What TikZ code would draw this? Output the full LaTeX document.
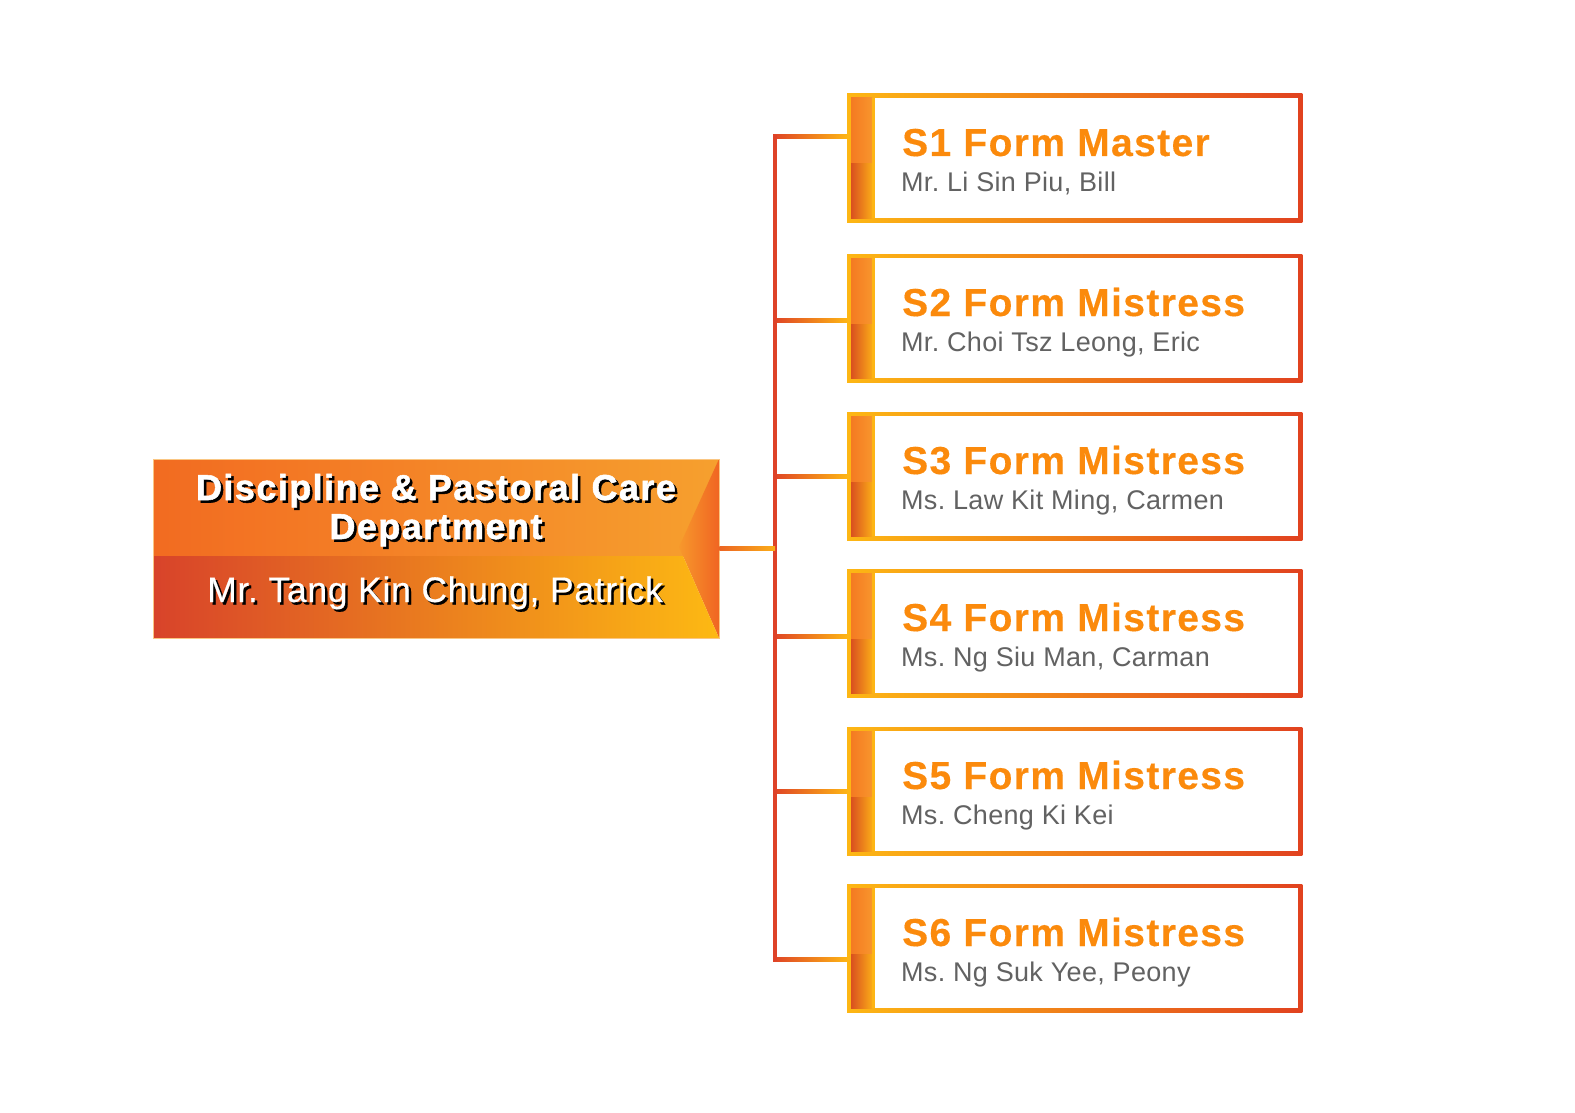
\documentclass[tikz,border=0pt]{standalone}
\usepackage{fontspec}
\setmainfont{Liberation Sans}
\newfontfamily\deptfont{Liberation Sans}[LetterSpace=4,FakeBold=1.5]
\newfontfamily\namefont{Liberation Sans}[LetterSpace=2,FakeBold=0.4]
\newfontfamily\ttlfont{Liberation Sans}[LetterSpace=3.5,FakeBold=0.3]
\newfontfamily\subfont{Liberation Sans}[LetterSpace=1.2]
\definecolor{ttlorange}{HTML}{FB8A0C}
\definecolor{subgray}{HTML}{626262}
\definecolor{bordL}{HTML}{FDB714}
\definecolor{bordM}{HTML}{F28F1B}
\definecolor{bordR}{HTML}{E1421F}
\definecolor{stTopL}{HTML}{F47A22}
\definecolor{stTopR}{HTML}{F8952C}
\definecolor{stBotL}{HTML}{D9501F}
\definecolor{stBotR}{HTML}{FAAA18}
\definecolor{brL}{HTML}{DF4326}
\definecolor{brR}{HTML}{FDB515}
\definecolor{spinecol}{HTML}{DE4228}
\definecolor{dTopL}{HTML}{F26B21}
\definecolor{dTopR}{HTML}{F6A02E}
\definecolor{dBotL}{HTML}{D8432A}
\definecolor{dBotR}{HTML}{FDB913}
\definecolor{dTriL}{HTML}{F7982C}
\definecolor{dTriR}{HTML}{F06522}
\definecolor{mcL}{HTML}{EC6524}
\definecolor{mcR}{HTML}{FBAE18}
\tikzset{
  boxframe/.style={minimum width=455pt, minimum height=128pt, inner sep=0pt, anchor=north west, draw=none},
  ttl/.style={anchor=base west, inner sep=0pt, text=ttlorange, font=\ttlfont\bfseries\fontsize{39}{43}\selectfont},
  sub/.style={anchor=base west, inner sep=0pt, text=subgray, font=\subfont\fontsize{27}{30}\selectfont},
  borderfill/.style={left color=bordL, middle color=bordM, right color=bordR},
  striptop/.style={left color=stTopL, right color=stTopR},
  stripbot/.style={left color=stBotL, right color=stBotR},
  branchfill/.style={left color=brL, right color=brR},
  spine/.style={draw=spinecol, line width=4pt, line cap=rect},
  dtitle/.style={anchor=base, inner sep=0pt, font=\deptfont\bfseries\fontsize{36}{40}\selectfont},
  dname/.style={anchor=base, inner sep=0pt, font=\namefont\fontsize{35.5}{39}\selectfont},
}
\newcommand\formbox[5]{%
  \node[boxframe] (#1) at (847,#2) {};
  \shade[borderfill] (#1.north west) rectangle (#1.south east);
  \fill[white] ([shift={(4pt,-4pt)}]#1.north west) rectangle ([shift={(-4pt,4pt)}]#1.south east);
  \shade[striptop] ([shift={(4pt,-4pt)}]#1.north west) rectangle ([shift={(25pt,-70pt)}]#1.north west);
  \shade[stripbot] ([shift={(4pt,-70pt)}]#1.north west) rectangle ([shift={(25pt,4pt)}]#1.south west);
  \fill[brR] ([shift={(25pt,-4pt)}]#1.north west) rectangle ([shift={(28pt,4pt)}]#1.south west);
  \node[ttl] (#1t) at ([shift={(55pt,-62pt)}]#1.north west) {#4};
  \node[sub] (#1n) at ([shift={(54pt,-97pt)}]#1.north west) {#5};
  \coordinate (#1j) at ([yshift=-#3pt]#1.north west);
  \coordinate (#1sp) at (spx |- #1j);
  \shade[branchfill] ([shift={(-2pt,2pt)}]#1sp) rectangle ([yshift=-2pt]#1j);
}
\begin{document}
\frenchspacing
\begin{tikzpicture}[x=1pt,y=-1pt]
\useasboundingbox[fill=white] (0,0) rectangle (1575,1113);
\coordinate (spx) at (775,0);
% department box
\node[minimum width=566pt, minimum height=179pt, inner sep=0pt, anchor=north west] (dept) at (153,459) {};
\shade[left color=dTopL, right color=dTopR] (153,459) rectangle (719,556);
\shade[left color=dTriL, right color=dTriR] (719,459) -- (679,547) -- (719,638) -- cycle;
\shade[left color=dBotL, right color=dBotR] (153,556) -- (683,556) -- (719,638) -- (153,638) -- cycle;
\draw[draw=dTopR!60!white, line width=1pt] (dept.north west) rectangle (dept.south east);
\node[dtitle, text=black] (d1s) at (438.5,502.5) {Discipline \& Pastoral Care};
\node[dtitle, text=white] (d1) at (436,500) {Discipline \& Pastoral Care};
\node[dtitle, text=black] (d2s) at (438.5,541.5) {Department};
\node[dtitle, text=white] (d2) at (436,539) {Department};
\node[dname, text=black] (d3s) at (437.5,604.5) {Mr. Tang Kin Chung, Patrick};
\node[dname, text=white] (d3) at (435,602) {Mr. Tang Kin Chung, Patrick};
% boxes
\formbox{b1}{94}{43}{S1 Form Master}{Mr. Li Sin Piu, Bill}
\formbox{b2}{254}{66}{S2 Form Mistress}{Mr. Choi Tsz Leong, Eric}
\formbox{b3}{412}{64}{S3 Form Mistress}{Ms. Law Kit Ming, Carmen}
\formbox{b4}{569}{67}{S4 Form Mistress}{Ms. Ng Siu Man, Carman}
\formbox{b5}{727}{64}{S5 Form Mistress}{Ms. Cheng Ki Kei}
\formbox{b6}{884}{75}{S6 Form Mistress}{Ms. Ng Suk Yee, Peony}
% spine and main connector
\draw[spine] (b1sp) -- (b6sp);
\coordinate (msp) at (spx |- dept.east);
\shade[left color=mcL, right color=mcR] ([yshift=2pt]dept.east) rectangle ([yshift=-2pt]msp);
\end{tikzpicture}
\end{document}
